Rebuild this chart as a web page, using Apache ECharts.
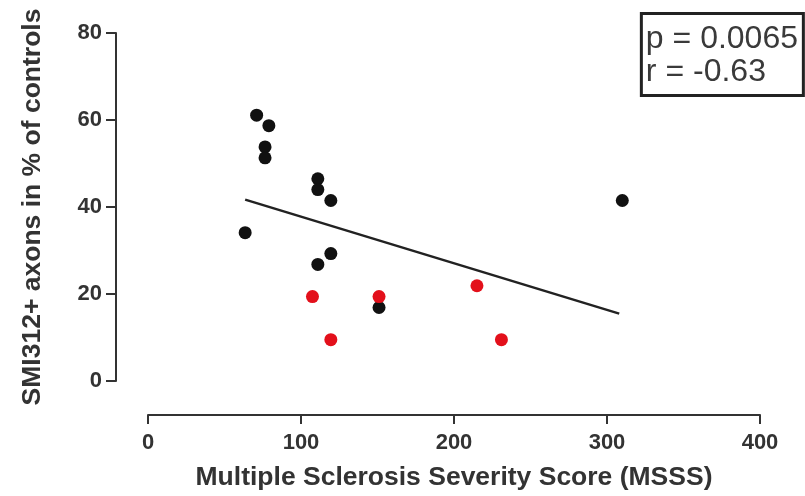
<!DOCTYPE html>
<html>
<head>
<meta charset="utf-8">
<script src="https://cdn.jsdelivr.net/npm/echarts@6/dist/echarts.min.js"></script>
<style>
  html, body { margin: 0; padding: 0; background: #fff; }
  #chart { width: 805px; height: 496px; }
</style>
</head>
<body>
<div id="chart"></div>
<script>
// MSSS vs SMI312+ axons (% of controls)
const blackPoints = [
  [71, 61.1], [79, 58.7], [76.5, 53.8], [76.5, 51.3],
  [111, 46.5], [111, 44.0], [119.5, 41.5], [310, 41.5],
  [63.5, 34.1], [119.5, 29.3], [111, 26.8], [151, 16.9]
];
const redPoints = [
  [107.5, 19.4], [151, 19.4], [215, 21.9], [119.5, 9.5], [231, 9.5]
];
const fitLine = [[63.5, 41.7], [308, 15.5]];
const xTicks = [0, 100, 200, 300, 400];
const yTicks = [0, 20, 40, 60, 80];
const statsText = 'p = 0.0065\nr = -0.63';

const chart = echarts.init(document.getElementById('chart'));

const axisText = { color: '#333', fontFamily: 'Liberation Sans, Arial, sans-serif', fontWeight: 'bold' };

chart.setOption({
  animation: false,
  backgroundColor: '#fff',
  title: {
    text: statsText,
    right: 1,
    top: 13,
    padding: [10, 6, 7, 5],
    borderWidth: 3,
    borderColor: '#222',
    textStyle: {
      fontFamily: 'Liberation Sans, Arial, sans-serif',
      fontWeight: 'normal',
      fontSize: 32,
      lineHeight: 33,
      color: '#3a3a3a'
    }
  },
  grid: { left: 148, right: 45, top: 33, bottom: 112 },
  xAxis: {
    type: 'value',
    min: xTicks[0],
    max: xTicks[xTicks.length - 1],
    interval: 100,
    offset: 34,
    name: 'Multiple Sclerosis Severity Score (MSSS)',
    nameLocation: 'middle',
    nameGap: 49,
    nameTextStyle: Object.assign({ fontSize: 26.5 }, axisText),
    axisLine: { onZero: false, lineStyle: { color: '#333', width: 2 } },
    axisTick: { length: 9, lineStyle: { color: '#333', width: 2 } },
    axisLabel: Object.assign({ fontSize: 22, margin: 17 }, axisText),
    splitLine: { show: false }
  },
  yAxis: {
    type: 'value',
    min: yTicks[0],
    max: yTicks[yTicks.length - 1],
    interval: 20,
    offset: 32,
    name: 'SMI312+ axons in % of controls',
    nameLocation: 'middle',
    nameGap: 70,
    nameTextStyle: Object.assign({ fontSize: 26.5 }, axisText),
    axisLine: { show: true, onZero: false, lineStyle: { color: '#333', width: 2 } },
    axisTick: { show: true, length: 10, lineStyle: { color: '#333', width: 2 } },
    axisLabel: Object.assign({ fontSize: 22, margin: 14 }, axisText),
    splitLine: { show: false }
  },
  series: [
    {
      type: 'line',
      data: fitLine,
      symbol: 'none',
      lineStyle: { color: '#222', width: 2.5 },
      z: 1
    },
    {
      type: 'scatter',
      data: blackPoints,
      symbolSize: 13,
      itemStyle: { color: '#111', opacity: 1 },
      z: 3
    },
    {
      type: 'scatter',
      data: redPoints,
      symbolSize: 13,
      itemStyle: { color: '#e3101b', opacity: 1 },
      z: 4
    }
  ]
});
</script>
</body>
</html>
